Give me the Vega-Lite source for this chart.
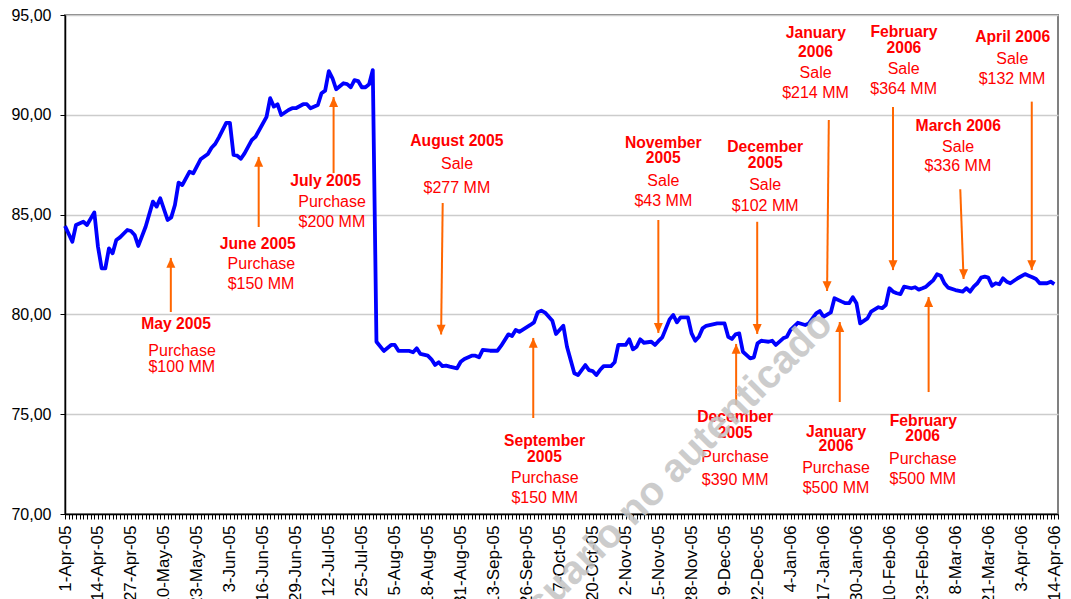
{
  "$schema": "https://vega.github.io/schema/vega-lite/v6.json",
  "width": 993,
  "height": 499,
  "autosize": {"type": "none"},
  "padding": {"left": 65, "top": 15, "right": 13, "bottom": 85},
  "background": "white",
  "config": {"font": "Liberation Sans", "view": {"stroke": "#808080", "strokeWidth": 2}},
  "datasets": {
    "series": [
      {"d":0,"v":84.43},{"d":2,"v":83.64},{"d":3,"v":84.48},{"d":5,"v":84.64},{"d":6,"v":84.48},{"d":8,"v":85.11},{"d":9,"v":83.39},{"d":10,"v":82.31},{"d":11,"v":82.31},{"d":12,"v":83.31},{"d":13,"v":83.06},{"d":14,"v":83.73},{"d":15,"v":83.86},{"d":17,"v":84.23},{"d":18,"v":84.18},{"d":19,"v":83.98},{"d":20,"v":83.43},{"d":22,"v":84.39},{"d":24,"v":85.65},{"d":25,"v":85.40},{"d":26,"v":85.82},{"d":28,"v":84.73},{"d":29,"v":84.86},{"d":30,"v":85.48},{"d":31,"v":86.60},{"d":32,"v":86.48},{"d":34,"v":87.15},{"d":35,"v":87.07},{"d":37,"v":87.77},{"d":39,"v":88.04},{"d":40,"v":88.35},{"d":41,"v":88.54},{"d":42,"v":88.87},{"d":44,"v":89.60},{"d":45,"v":89.60},{"d":46,"v":87.99},{"d":47,"v":87.95},{"d":48,"v":87.80},{"d":49,"v":88.07},{"d":51,"v":88.74},{"d":52,"v":88.90},{"d":55,"v":89.90},{"d":56,"v":90.83},{"d":57,"v":90.41},{"d":58,"v":90.53},{"d":59,"v":89.99},{"d":61,"v":90.24},{"d":62,"v":90.33},{"d":63,"v":90.33},{"d":65,"v":90.53},{"d":66,"v":90.53},{"d":67,"v":90.33},{"d":69,"v":90.49},{"d":70,"v":91.08},{"d":71,"v":91.21},{"d":72,"v":92.19},{"d":73,"v":91.83},{"d":74,"v":91.28},{"d":76,"v":91.58},{"d":77,"v":91.54},{"d":78,"v":91.38},{"d":79,"v":91.74},{"d":80,"v":91.69},{"d":81,"v":91.38},{"d":82,"v":91.38},{"d":83,"v":91.53},{"d":84,"v":92.24},
      {"d":85,"v":78.63},{"d":87,"v":78.17},{"d":89,"v":78.47},{"d":90,"v":78.47},{"d":91,"v":78.18},{"d":94,"v":78.17},{"d":95,"v":78.10},{"d":96,"v":78.30},{"d":97,"v":78.02},{"d":99,"v":77.93},{"d":100,"v":77.75},{"d":101,"v":77.47},{"d":102,"v":77.60},{"d":103,"v":77.41},{"d":104,"v":77.43},{"d":105,"v":77.38},{"d":107,"v":77.30},{"d":108,"v":77.63},{"d":109,"v":77.77},{"d":111,"v":77.93},{"d":112,"v":77.93},{"d":113,"v":77.85},{"d":114,"v":78.22},{"d":116,"v":78.18},{"d":118,"v":78.18},{"d":119,"v":78.42},{"d":121,"v":79.00},{"d":122,"v":78.92},{"d":123,"v":79.22},{"d":124,"v":79.13},{"d":127,"v":79.47},{"d":128,"v":79.60},{"d":129,"v":80.10},{"d":130,"v":80.19},{"d":131,"v":80.09},{"d":133,"v":79.68},{"d":134,"v":79.02},{"d":136,"v":79.43},{"d":137,"v":78.38},{"d":139,"v":77.05},{"d":140,"v":76.96},{"d":142,"v":77.46},{"d":143,"v":77.21},{"d":144,"v":77.16},{"d":145,"v":76.96},{"d":146,"v":77.21},{"d":147,"v":77.41},{"d":149,"v":77.41},{"d":150,"v":77.60},{"d":151,"v":78.47},{"d":153,"v":78.47},{"d":154,"v":78.75},{"d":155,"v":78.25},{"d":156,"v":78.38},{"d":157,"v":78.75},{"d":158,"v":78.58},{"d":160,"v":78.63},{"d":161,"v":78.47},{"d":162,"v":78.67},{"d":163,"v":78.85},{"d":165,"v":79.75},{"d":166,"v":79.97},{"d":167,"v":79.60},{"d":168,"v":79.85},{"d":170,"v":79.85},{"d":171,"v":79.05},{"d":172,"v":78.68},{"d":173,"v":78.88},{"d":174,"v":79.30},{"d":175,"v":79.43},{"d":178,"v":79.55},{"d":180,"v":79.55},{"d":181,"v":78.88},{"d":182,"v":78.77},{"d":183,"v":79.00},{"d":184,"v":79.05},{"d":185,"v":78.13},{"d":187,"v":77.80},{"d":188,"v":77.85},{"d":189,"v":78.55},{"d":190,"v":78.68},{"d":192,"v":78.63},{"d":193,"v":78.68},{"d":194,"v":78.47},{"d":196,"v":78.80},{"d":197,"v":78.88},{"d":198,"v":79.22},{"d":200,"v":79.58},{"d":202,"v":79.47},{"d":203,"v":79.55},{"d":205,"v":80.05},{"d":206,"v":80.17},{"d":207,"v":79.88},{"d":209,"v":80.10},{"d":210,"v":80.81},{"d":212,"v":80.64},{"d":213,"v":80.56},{"d":214,"v":80.56},{"d":215,"v":80.86},{"d":216,"v":80.56},{"d":217,"v":79.55},{"d":219,"v":79.80},{"d":220,"v":80.14},{"d":222,"v":80.36},{"d":223,"v":80.31},{"d":224,"v":80.47},{"d":225,"v":81.31},{"d":226,"v":81.14},{"d":227,"v":81.06},{"d":228,"v":81.02},{"d":229,"v":81.39},{"d":231,"v":81.31},{"d":232,"v":81.36},{"d":233,"v":81.24},{"d":234,"v":81.31},{"d":235,"v":81.39},{"d":236,"v":81.56},{"d":237,"v":81.72},{"d":238,"v":82.01},{"d":239,"v":81.94},{"d":240,"v":81.56},{"d":241,"v":81.34},{"d":243,"v":81.22},{"d":245,"v":81.14},{"d":246,"v":81.31},{"d":247,"v":81.14},{"d":248,"v":81.39},{"d":249,"v":81.56},{"d":250,"v":81.84},{"d":251,"v":81.89},{"d":252,"v":81.84},{"d":253,"v":81.44},{"d":254,"v":81.56},{"d":255,"v":81.51},{"d":256,"v":81.81},{"d":257,"v":81.64},{"d":258,"v":81.56},{"d":260,"v":81.81},{"d":262,"v":82.02},{"d":263,"v":81.94},{"d":264,"v":81.86},{"d":265,"v":81.77},{"d":266,"v":81.56},{"d":268,"v":81.56},{"d":269,"v":81.64},{"d":270,"v":81.52}
    ],
    "arrows": [
      {"d2":28.88,"v2":80.12,"d":28.88,"v":82.83,"dir":"up"},
      {"d2":52.86,"v2":84.38,"d":52.86,"v":87.89,"dir":"up"},
      {"d2":73.30,"v2":87.08,"d":73.30,"v":90.89,"dir":"up"},
      {"d2":103.08,"v2":85.58,"d":102.64,"v":78.99,"dir":"down"},
      {"d2":127.79,"v2":74.81,"d":127.79,"v":78.82,"dir":"up"},
      {"d2":161.93,"v2":84.73,"d":161.93,"v":79.07,"dir":"down"},
      {"d2":188.91,"v2":84.64,"d":188.91,"v":79.02,"dir":"down"},
      {"d2":208.45,"v2":89.74,"d":207.98,"v":81.17,"dir":"down"},
      {"d2":225.97,"v2":90.39,"d":225.97,"v":82.22,"dir":"down"},
      {"d2":244.33,"v2":86.27,"d":245.23,"v":81.77,"dir":"down"},
      {"d2":263.84,"v2":90.66,"d":263.84,"v":82.22,"dir":"down"},
      {"d2":183.16,"v2":75.46,"d":183.16,"v":78.52,"dir":"up"},
      {"d2":211.44,"v2":75.61,"d":211.44,"v":79.62,"dir":"up"},
      {"d2":235.69,"v2":76.11,"d":235.69,"v":80.87,"dir":"up"}
    ],
    "labels": [
      {"d":30.33,"v":79.50,"t":"May 2005","k":"head"},{"d":31.96,"v":78.17,"t":"Purchase","k":"body"},{"d":31.88,"v":77.35,"t":"$100 MM","k":"body"},
      {"d":52.59,"v":83.53,"t":"June 2005","k":"head"},{"d":53.60,"v":82.51,"t":"Purchase","k":"body"},{"d":53.49,"v":81.51,"t":"$150 MM","k":"body"},
      {"d":71.12,"v":86.68,"t":"July 2005","k":"head"},{"d":72.89,"v":85.65,"t":"Purchase","k":"body"},{"d":72.83,"v":84.64,"t":"$200 MM","k":"body"},
      {"d":106.95,"v":88.70,"t":"August 2005","k":"head"},{"d":107.0,"v":87.52,"t":"Sale","k":"body"},{"d":106.95,"v":86.32,"t":"$277 MM","k":"body"},
      {"d":163.27,"v":88.60,"t":"November","k":"head"},{"d":163.27,"v":87.82,"t":"2005","k":"head"},{"d":163.3,"v":86.70,"t":"Sale","k":"body"},{"d":163.3,"v":85.68,"t":"$43 MM","k":"body"},
      {"d":191.09,"v":88.37,"t":"December","k":"head"},{"d":191.09,"v":87.57,"t":"2005","k":"head"},{"d":191.09,"v":86.47,"t":"Sale","k":"body"},{"d":191.09,"v":85.43,"t":"$102 MM","k":"body"},
      {"d":204.9,"v":94.08,"t":"January","k":"head"},{"d":204.8,"v":93.13,"t":"2006","k":"head"},{"d":204.85,"v":92.08,"t":"Sale","k":"body"},{"d":204.82,"v":91.08,"t":"$214 MM","k":"body"},
      {"d":228.96,"v":94.16,"t":"February","k":"head"},{"d":228.94,"v":93.36,"t":"2006","k":"head"},{"d":228.88,"v":92.28,"t":"Sale","k":"body"},{"d":228.88,"v":91.29,"t":"$364 MM","k":"body"},
      {"d":258.64,"v":93.88,"t":"April 2006","k":"head"},{"d":258.53,"v":92.78,"t":"Sale","k":"body"},{"d":258.45,"v":91.78,"t":"$132 MM","k":"body"},
      {"d":243.79,"v":89.45,"t":"March 2006","k":"head"},{"d":243.73,"v":88.40,"t":"Sale","k":"body"},{"d":243.68,"v":87.43,"t":"$336 MM","k":"body"},
      {"d":130.87,"v":73.66,"t":"September","k":"head"},{"d":130.87,"v":72.87,"t":"2005","k":"head"},{"d":130.93,"v":71.79,"t":"Purchase","k":"body"},{"d":130.93,"v":70.79,"t":"$150 MM","k":"body"},
      {"d":182.89,"v":74.84,"t":"December","k":"head"},{"d":182.89,"v":74.07,"t":"2005","k":"head"},{"d":182.89,"v":72.87,"t":"Purchase","k":"body"},{"d":182.89,"v":71.70,"t":"$390 MM","k":"body"},
      {"d":210.44,"v":74.12,"t":"January","k":"head"},{"d":210.41,"v":73.41,"t":"2006","k":"head"},{"d":210.41,"v":72.32,"t":"Purchase","k":"body"},{"d":210.41,"v":71.29,"t":"$500 MM","k":"body"},
      {"d":234.25,"v":74.67,"t":"February","k":"head"},{"d":234.06,"v":73.91,"t":"2006","k":"head"},{"d":234.11,"v":72.76,"t":"Purchase","k":"body"},{"d":234.11,"v":71.77,"t":"$500 MM","k":"body"}
    ]
  },
  "encoding": {
    "x": {
      "field": "d", "type": "quantitative",
      "scale": {"domain": [0, 271], "nice": false, "zero": false},
      "axis": {
        "title": null, "grid": false, "tickCount": 271,
        "labelExpr": "datum.value % 9 === 0 && datum.value <= 270 ? ['1-Apr-05','14-Apr-05','27-Apr-05','10-May-05','23-May-05','3-Jun-05','16-Jun-05','29-Jun-05','12-Jul-05','25-Jul-05','5-Aug-05','18-Aug-05','31-Aug-05','13-Sep-05','26-Sep-05','7-Oct-05','20-Oct-05','2-Nov-05','15-Nov-05','28-Nov-05','9-Dec-05','22-Dec-05','4-Jan-06','17-Jan-06','30-Jan-06','10-Feb-06','23-Feb-06','8-Mar-06','21-Mar-06','3-Apr-06','14-Apr-06'][datum.value / 9] : ''",
        "labelAngle": -90, "labelAlign": "right", "labelBaseline": "middle",
        "labelOverlap": false, "labelFlush": false, "labelBound": false,
        "labelFontSize": 17, "labelColor": "#000000", "labelPadding": 6,
        "tickSize": 5, "tickColor": "#000000", "tickWidth": 1,
        "domainColor": "#000000", "domainWidth": 1.5
      }
    },
    "y": {
      "field": "v", "type": "quantitative",
      "scale": {"domain": [70, 95], "nice": false, "zero": false},
      "axis": {
        "title": null, "values": [70, 75, 80, 85, 90, 95],
        "labelExpr": "replace(format(datum.value, '.2f'), '.', ',')",
        "labelFontSize": 16, "labelColor": "#000000", "labelPadding": 9,
        "tickSize": 5, "tickColor": "#000000",
        "domainColor": "#000000", "domainWidth": 1.5,
        "grid": true, "gridColor": "#cccccc", "gridWidth": 1.5
      }
    }
  },
  "layer": [
    {
      "data": {"name": "series"},
      "mark": {"type": "line", "color": "#0000FF", "strokeWidth": 3.8, "strokeJoin": "round"}
    },
    {
      "data": {"name": "arrows"},
      "mark": {"type": "rule", "color": "#FF6600", "strokeWidth": 2},
      "encoding": {
        "x2": {"field": "d2"},
        "y2": {"field": "v2"}
      }
    },
    {
      "data": {"name": "arrows"},
      "mark": {"type": "point", "filled": true, "color": "#FF6600", "opacity": 1, "size": 81, "strokeWidth": 0},
      "encoding": {
        "shape": {"field": "dir", "type": "nominal", "scale": {"domain": ["up", "down"], "range": ["M0,0L-1,2.2L1,2.2Z", "M0,0L-1,-2.2L1,-2.2Z"]}, "legend": null}
      }
    },
    {
      "data": {"name": "labels"},
      "transform": [{"filter": "datum.k === 'head'"}],
      "mark": {"type": "text", "color": "#FF0000", "fontWeight": "bold", "fontSize": 15.7, "align": "center", "baseline": "middle"},
      "encoding": {"text": {"field": "t"}}
    },
    {
      "data": {"name": "labels"},
      "transform": [{"filter": "datum.k === 'body'"}],
      "mark": {"type": "text", "color": "#FF0000", "fontSize": 16, "align": "center", "baseline": "middle"},
      "encoding": {"text": {"field": "t"}}
    },
    {
      "data": {"values": [{"d": 164.8, "v": 71.95, "t": "Usuario no autenticado"}]},
      "mark": {"type": "text", "color": "#c4c4c4", "opacity": 0.85, "fontWeight": "bold", "fontSize": 40, "angle": -45, "align": "center", "baseline": "middle"},
      "encoding": {"text": {"field": "t"}}
    }
  ]
}
